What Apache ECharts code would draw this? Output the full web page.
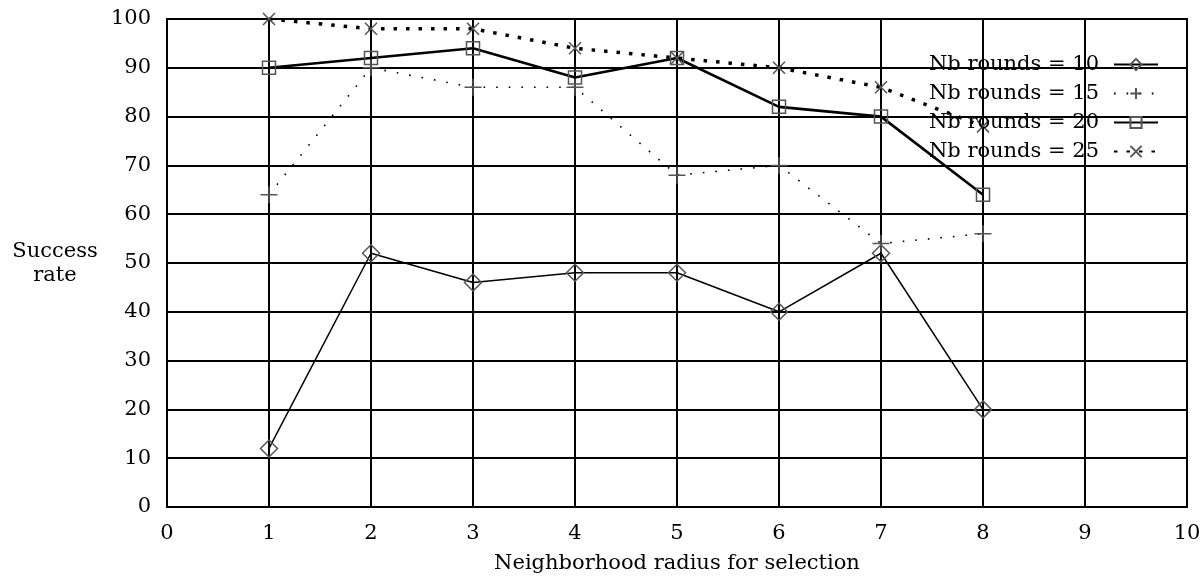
<!DOCTYPE html>
<html>
<head>
<meta charset="utf-8">
<script src="https://cdn.jsdelivr.net/npm/echarts@6/dist/echarts.min.js"></script>
<style>html,body{margin:0;padding:0;background:#fff}#c{width:1204px;height:580px}</style>
</head>
<body>
<div id="c"></div>
<script>
const radius = [1, 2, 3, 4, 5, 6, 7, 8];
const rounds10 = [12, 52, 46, 48, 48, 40, 52, 20];
const rounds15 = [64, 90, 86, 86, 68, 70, 54, 56];
const rounds20 = [90, 92, 94, 88, 92, 82, 80, 64];
const rounds25 = [100, 98, 98, 94, 92, 90, 86, 78];
const seriesNames = ['Nb rounds = 10', 'Nb rounds = 15', 'Nb rounds = 20', 'Nb rounds = 25'];
const xTitle = 'Neighborhood radius for selection';
const yTitle = 'Success\nrate';

const FONT = 'DejaVu Serif';
const FS = 21;
const pair = (vals) => radius.map((r, i) => [r, vals[i]]);
const mk = (name, vals, symbol, size, lineWidth, lineType) => ({
  name, type: 'line', data: pair(vals), symbol, symbolSize: size,
  color: '#000',
  lineStyle: { color: '#000', width: lineWidth, type: lineType },
  itemStyle: { color: 'transparent', borderColor: '#555', borderWidth: 1.5 },
  emphasis: { disabled: true }, animation: false, z: 3
});

const chart = echarts.init(document.getElementById('c'));
chart.setOption({
  animation: false,
  backgroundColor: '#fff',
  grid: { left: 167, right: 17, top: 19, bottom: 73, show: true, borderColor: '#000', borderWidth: 2 },
  xAxis: {
    type: 'value', min: 0, max: 10, interval: 1,
    name: xTitle, nameLocation: 'middle', nameGap: 46,
    nameTextStyle: { fontFamily: FONT, fontSize: FS, color: '#000' },
    axisLine: { show: true, lineStyle: { color: '#000', width: 2 } },
    axisTick: { show: false },
    axisLabel: { margin: 16, fontFamily: FONT, fontSize: FS, color: '#000' },
    splitLine: { show: true, lineStyle: { color: '#000', width: 2 } }
  },
  yAxis: {
    type: 'value', min: 0, max: 100, interval: 10,
    axisLine: { show: true, lineStyle: { color: '#000', width: 2 } },
    axisTick: { show: false },
    axisLabel: { margin: 16, fontFamily: FONT, fontSize: FS, color: '#000' },
    splitLine: { show: true, lineStyle: { color: '#000', width: 2 } }
  },
  legend: {
    orient: 'vertical', align: 'right', right: 40, top: 49,
    itemWidth: 44, itemHeight: 14, itemGap: 8,
    textStyle: { fontFamily: FONT, fontSize: FS, color: '#000', lineHeight: 21, padding: [0, 10, 0, 0] },
    backgroundColor: 'transparent', selectedMode: false
  },
  graphic: [{
    type: 'text', x: 55, y: 240,
    style: { text: yTitle, fontFamily: FONT, fontSize: FS, fill: '#000', align: 'center', lineHeight: 24 }
  }],
  series: [
    mk(seriesNames[0], rounds10, 'diamond', 17, 1.5, 'solid'),
    mk(seriesNames[1], rounds15, 'path://M0,5L10,5M5,0L5,10', 17, 1.6, [1.6, 11]),
    mk(seriesNames[2], rounds20, 'rect', 13, 2.6, 'solid'),
    mk(seriesNames[3], rounds25, 'path://M0,0L10,10M10,0L0,10', 12, 3.5, [3.5, 9])
  ]
});
</script>
</body>
</html>
